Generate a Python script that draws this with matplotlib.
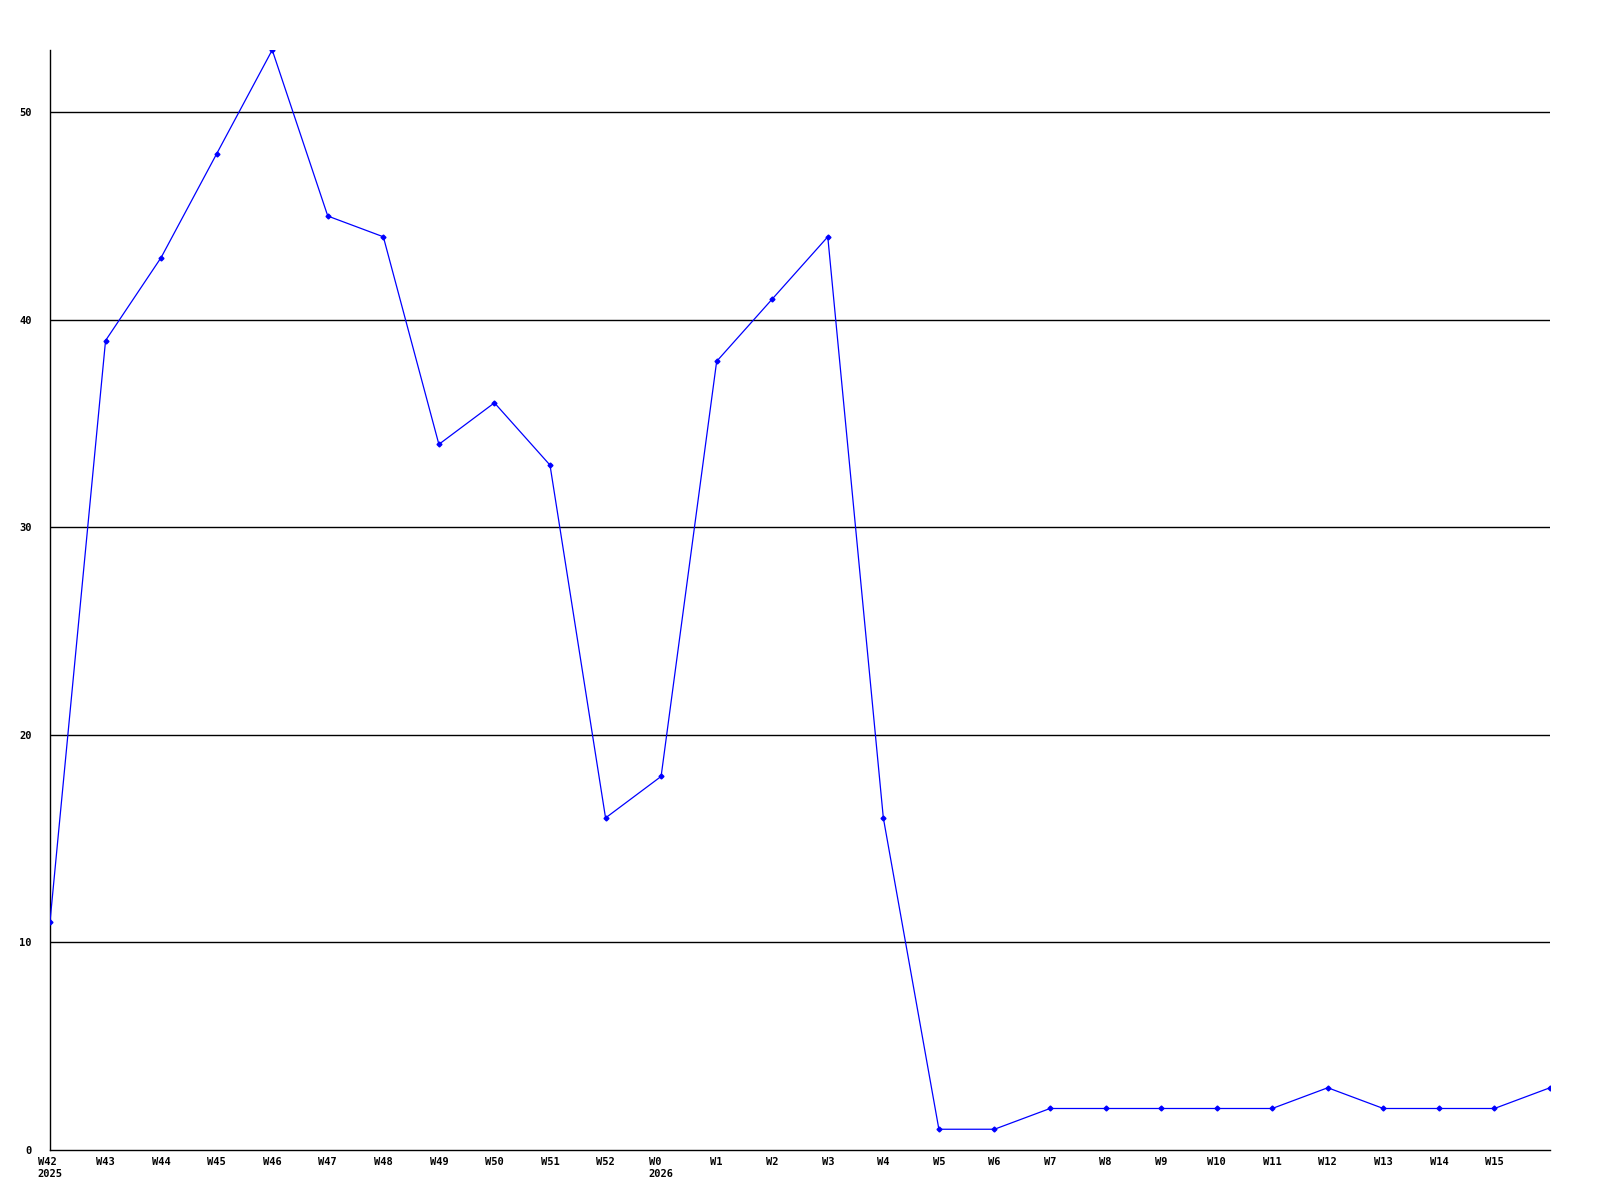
import matplotlib
matplotlib.use("Agg")
import matplotlib.pyplot as plt

# weekly counts, W42 2025 through W16 2026
weeks = ["W42", "W43", "W44", "W45", "W46", "W47", "W48", "W49", "W50", "W51", "W52",
         "W0", "W1", "W2", "W3", "W4", "W5", "W6", "W7", "W8", "W9", "W10", "W11",
         "W12", "W13", "W14", "W15", "W16"]
counts = [11, 39, 43, 48, 53, 45, 44, 34, 36, 33, 16,
          18, 38, 41, 44, 16, 1, 1, 2, 2, 2, 2, 2,
          3, 2, 2, 2, 3]
year_marks = {"W42": "2025", "W0": "2026"}
y_ticks = [0, 10, 20, 30, 40, 50]

fig = plt.figure(figsize=(16, 12), dpi=100)
ax = fig.add_axes([50 / 1600, 50 / 1200, 1500 / 1600, 1100 / 1200])

x = list(range(len(weeks)))
for yt in y_ticks[1:]:
    ax.axhline(yt, color="black", lw=1.0, zorder=1)
ax.plot(x, counts, color="#0000ff", lw=0.9, marker="D", ms=2.5, zorder=3)

ax.set_xlim(0, len(weeks) - 1)
ax.set_ylim(0, max(counts))

# last week has no label in the original
labels = []
for w in weeks[:-1]:
    labels.append(w + ("\n" + year_marks[w] if w in year_marks else ""))
ax.set_xticks(x[:-1])
ax.set_xticklabels(labels, multialignment="left")
ax.set_yticks(y_ticks)

for lab in ax.get_xticklabels() + ax.get_yticklabels():
    lab.set_fontfamily("DejaVu Sans Mono")
    lab.set_fontweight("bold")
    lab.set_fontsize(7.5)

ax.tick_params(axis="both", length=0)
ax.tick_params(axis="x", pad=5)
ax.tick_params(axis="y", pad=13)
for s in ["top", "right"]:
    ax.spines[s].set_visible(False)
for s in ["left", "bottom"]:
    ax.spines[s].set_linewidth(1.0)
    ax.spines[s].set_color("black")

fig.savefig("out.png", dpi=100)
